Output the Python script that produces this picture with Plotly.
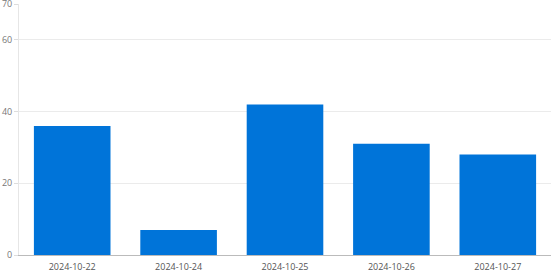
import plotly.graph_objects as go

categories = ["2024-10-22", "2024-10-24", "2024-10-25", "2024-10-26", "2024-10-27"]
values = [36, 7, 42, 31, 28]
y_ticks = [0, 20, 40, 60, 70]

fig = go.Figure(go.Bar(x=categories, y=values, marker=dict(color="#0074D9", line=dict(width=0))))
fig.update_layout(
    width=552, height=276,
    margin=dict(l=19, r=1, t=4, b=21),
    paper_bgcolor="white", plot_bgcolor="white",
    bargap=0.28,
    font=dict(family="Open Sans", size=9, color="#666666"),
    showlegend=False,
)
fig.update_xaxes(type="category", showline=True, linecolor="#bbbbbb", linewidth=1,
                 showgrid=False, ticks="outside", ticklen=3, tickcolor="rgba(0,0,0,0)",
                 automargin=False, tickfont=dict(size=9, color="#555555"))
fig.update_yaxes(range=[0, 70], tickvals=y_ticks, showgrid=True, gridcolor="#ebebeb",
                 showline=True, linecolor="#e6e6e6", ticks="outside", ticklen=4,
                 tickcolor="#dddddd", zeroline=False, ticklabeloverflow="allow",
                 automargin=False, tickfont=dict(size=9, color="#777777"))
fig.write_html("out.html")
